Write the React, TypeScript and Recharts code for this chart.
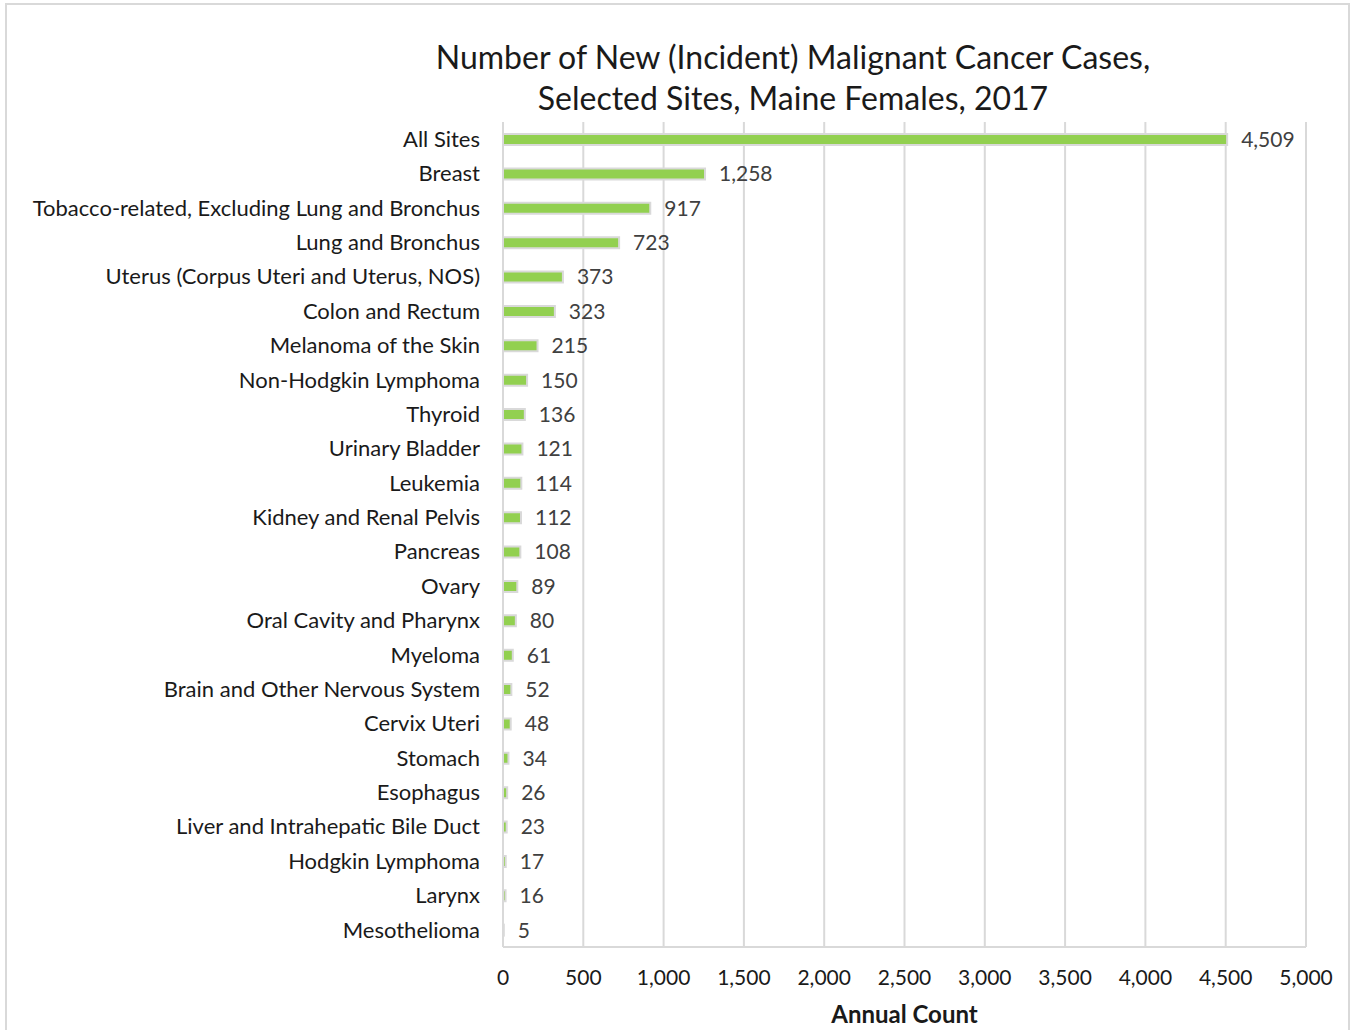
import { Bar, BarChart, CartesianGrid, LabelList, XAxis, YAxis } from "recharts";

const sites = [
  "All Sites",
  "Breast",
  "Tobacco-related, Excluding Lung and Bronchus",
  "Lung and Bronchus",
  "Uterus (Corpus Uteri and Uterus, NOS)",
  "Colon and Rectum",
  "Melanoma of the Skin",
  "Non-Hodgkin Lymphoma",
  "Thyroid",
  "Urinary Bladder",
  "Leukemia",
  "Kidney and Renal Pelvis",
  "Pancreas",
  "Ovary",
  "Oral Cavity and Pharynx",
  "Myeloma",
  "Brain and Other Nervous System",
  "Cervix Uteri",
  "Stomach",
  "Esophagus",
  "Liver and Intrahepatic Bile Duct",
  "Hodgkin Lymphoma",
  "Larynx",
  "Mesothelioma",
];

const counts = [4509, 1258, 917, 723, 373, 323, 215, 150, 136, 121, 114, 112, 108, 89, 80, 61, 52, 48, 34, 26, 23, 17, 16, 5];

const xTicks = [0, 500, 1000, 1500, 2000, 2500, 3000, 3500, 4000, 4500, 5000];

const rows = sites.map((name, i) => ({ name, count: counts[i] }));

const fmt = (v: number) => v.toLocaleString("en-US");
const font = "Lato, 'Open Sans', sans-serif";

export default function App() {
  return (
    <div style={{ position: "absolute", left: 0, top: 0, width: 1352, height: 1030, overflow: "hidden", background: "#fff", fontFamily: font }}>
      <div style={{ position: "absolute", left: 5, top: 3, width: 1341, height: 1040, border: "2px solid #d9d9d9" }} />
      <div
        style={{
          position: "absolute",
          left: 293,
          width: 1000,
          top: 36,
          textAlign: "center",
          fontSize: 32,
          lineHeight: "41px",
          color: "#1a1a1a",
        }}
      >
        Number of New (Incident) Malignant Cancer Cases,
        <br />
        Selected Sites, Maine Females, 2017
      </div>
      <BarChart
        width={1352}
        height={1030}
        data={rows}
        layout="vertical"
        margin={{ top: 122, right: 46, bottom: 53, left: 8 }}
        barSize={11}
        style={{ position: "absolute", left: 0, top: 0 }}
      >
        <CartesianGrid horizontal={false} stroke="#d9d9d9" strokeWidth={2} />
        <XAxis
          type="number"
          domain={[0, 5000]}
          ticks={xTicks}
          tickFormatter={fmt}
          tickLine={false}
          tickSize={0}
          tickMargin={23}
          axisLine={{ stroke: "#d9d9d9", strokeWidth: 2 }}
          tick={{ fill: "#1a1a1a", fontSize: 21, fontFamily: font }}
          height={30}
          label={{ value: "Annual Count", position: "bottom", offset: 29, fill: "#1a1a1a", fontSize: 24, fontWeight: 700, fontFamily: font }}
        />
        <YAxis
          type="category"
          dataKey="name"
          width={495}
          interval={0}
          tickLine={false}
          axisLine={false}
          tickSize={0}
          tickMargin={23}
          tick={{ fill: "#1a1a1a", fontSize: 22, fontFamily: font }}
        />
        <Bar dataKey="count" fill="#92d050" stroke="#d9d9d9" strokeWidth={2} isAnimationActive={false}>
          <LabelList dataKey="count" position="right" offset={14} formatter={(v: any) => fmt(Number(v))} fill="#404040" fontSize={21} fontFamily={font} />
        </Bar>
      </BarChart>
    </div>
  );
}
